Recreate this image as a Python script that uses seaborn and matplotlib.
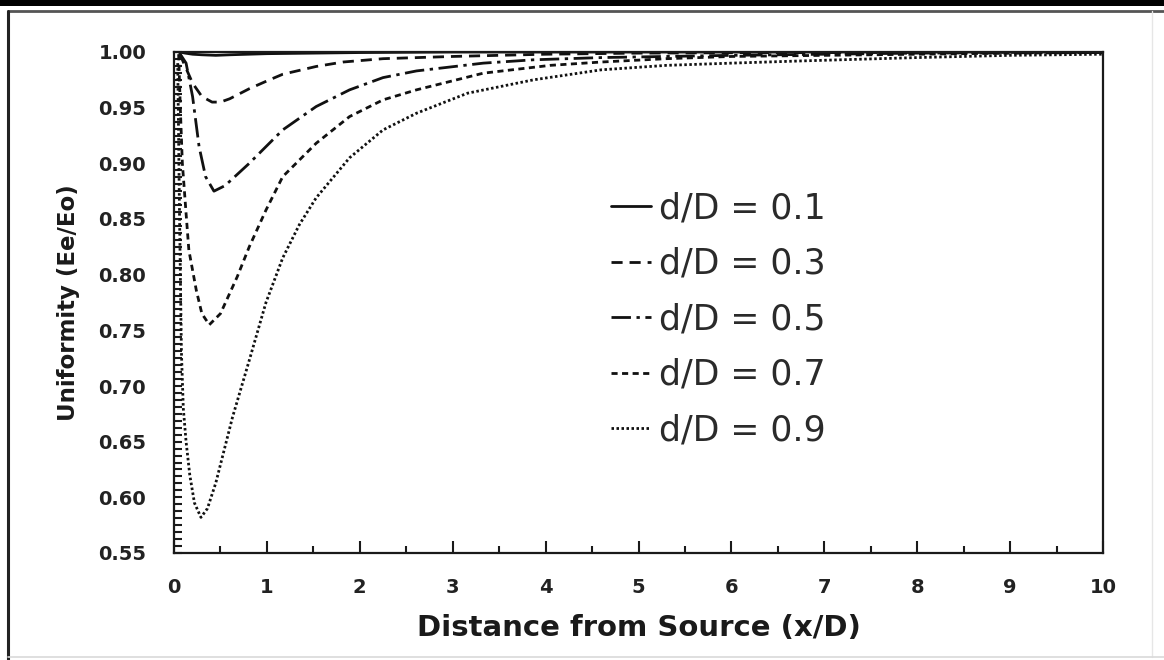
import numpy as np
import pandas as pd
import matplotlib
matplotlib.use("Agg")
import matplotlib.pyplot as plt
from matplotlib.lines import Line2D
from matplotlib.patches import Rectangle
from matplotlib.ticker import MultipleLocator, FormatStrFormatter
import seaborn as sns

# Series labels (ratio of source size d to diameter D)
labels = ["d/D = 0.1", "d/D = 0.3", "d/D = 0.5", "d/D = 0.7", "d/D = 0.9"]

# Uniformity Ee/Eo versus distance from source x/D
x_01 = [0.06, 0.12, 0.2, 0.3, 0.45, 0.6, 0.8, 1.0, 1.5, 2.0, 3.0, 4.0, 6.0, 8.0, 10.0]
y_01 = [1.000, 0.999, 0.998, 0.9975, 0.997, 0.9975, 0.998, 0.9985, 0.999, 0.9995, 1.0, 1.0, 1.0, 1.0, 1.0]

x_03 = [0.06, 0.1, 0.2, 0.3, 0.41, 0.5, 0.6, 0.81, 1.0, 1.17, 1.53, 1.82, 2.25, 3.0, 4.0, 5.0, 6.0, 8.0, 10.0]
y_03 = [0.999, 0.991, 0.972, 0.960, 0.955, 0.955, 0.958, 0.967, 0.974, 0.980, 0.987, 0.991, 0.994, 0.996, 0.998, 0.999, 0.9993, 0.9996, 0.9998]

x_05 = [0.06, 0.13, 0.2, 0.27, 0.34, 0.43, 0.55, 0.81, 1.17, 1.53, 1.89, 2.25, 2.61, 3.33, 3.87, 4.6, 5.3, 6.0, 7.0, 8.0, 10.0]
y_05 = [0.999, 0.990, 0.960, 0.915, 0.888, 0.875, 0.880, 0.900, 0.930, 0.951, 0.966, 0.977, 0.983, 0.990, 0.993, 0.995, 0.996, 0.997, 0.998, 0.999, 0.9995]

x_07 = [0.05, 0.07, 0.09, 0.13, 0.16, 0.24, 0.30, 0.38, 0.5, 0.68, 0.81, 0.99, 1.17, 1.53, 1.89, 2.25, 2.61, 3.33, 4.05, 4.6, 5.3, 6.0, 7.0, 8.0, 9.0, 10.0]
y_07 = [0.998, 0.945, 0.900, 0.855, 0.822, 0.786, 0.765, 0.755, 0.765, 0.798, 0.825, 0.858, 0.888, 0.918, 0.942, 0.957, 0.966, 0.981, 0.988, 0.991, 0.994, 0.996, 0.997, 0.998, 0.999, 0.9995]

x_09 = [0.04, 0.06, 0.08, 0.10, 0.13, 0.17, 0.22, 0.29, 0.36, 0.45, 0.63, 0.81, 0.99, 1.17, 1.35, 1.53, 1.89, 2.25, 2.61, 3.16, 3.87, 4.6, 5.3, 6.0, 6.76, 8.0, 9.0, 10.0]
y_09 = [0.990, 0.850, 0.730, 0.680, 0.650, 0.620, 0.595, 0.582, 0.590, 0.613, 0.672, 0.723, 0.775, 0.815, 0.845, 0.869, 0.905, 0.930, 0.945, 0.963, 0.975, 0.984, 0.988, 0.990, 0.992, 0.995, 0.997, 0.998]

series_x = [x_01, x_03, x_05, x_07, x_09]
series_y = [y_01, y_03, y_05, y_07, y_09]

x_ticks = list(range(0, 11))
y_ticks = [0.55, 0.60, 0.65, 0.70, 0.75, 0.80, 0.85, 0.90, 0.95, 1.00]

sns.set_theme(style="white")
plt.rcParams["font.family"] = ["DejaVu Sans"]

df = pd.concat(
    [pd.DataFrame({"x": xs, "u": ys, "series": lab})
     for lab, xs, ys in zip(labels, series_x, series_y)],
    ignore_index=True,
)

W, H = 1164, 660
fig = plt.figure(figsize=(W / 100, H / 100), dpi=100)
fig.patch.set_facecolor("white")
ax = fig.add_axes([174 / W, 1 - 553 / H, (1103 - 174) / W, (553 - 52) / H])

dash_map = {
    labels[0]: "",
    labels[1]: (4, 2.5),
    labels[2]: (7, 2, 1.2, 2),
    labels[3]: (2.2, 1.6),
    labels[4]: (0.9, 0.9),
}
sns.lineplot(data=df, x="x", y="u", style="series", dashes=dash_map,
             color="#111111", lw=2, sort=False, estimator=None, ax=ax)

ax.set_xlim(0, 10)
ax.set_ylim(0.55, 1.00)
ax.xaxis.set_major_locator(MultipleLocator(1))
ax.xaxis.set_minor_locator(MultipleLocator(0.5))
ax.yaxis.set_major_locator(MultipleLocator(0.05))
ax.yaxis.set_minor_locator(MultipleLocator(0.00625))
ax.set_xticks(x_ticks)
ax.set_yticks(y_ticks)
ax.yaxis.set_major_formatter(FormatStrFormatter("%.2f"))

for s in ax.spines.values():
    s.set_color("#1a1a1a")
    s.set_linewidth(1.6)

ax.tick_params(which="both", bottom=True, left=True, top=False, right=False)
ax.tick_params(axis="x", which="major", direction="in", length=8.5, width=1.5,
               color="#1a1a1a", pad=18, labelsize=14, labelcolor="#222222")
ax.tick_params(axis="x", which="minor", direction="in", length=5, width=1.5,
               color="#1a1a1a")
ax.tick_params(axis="y", which="both", direction="in", length=6, width=1.5,
               color="#1a1a1a")
ax.tick_params(axis="y", which="major", pad=20, labelsize=14, labelcolor="#222222")
for t in ax.get_xticklabels() + ax.get_yticklabels():
    t.set_fontweight("bold")

ax.set_xlabel("Distance from Source (x/D)", fontsize=21, fontweight="bold",
              color="#1a1a1a", labelpad=12)
ax.set_ylabel("Uniformity (Ee/Eo)", fontsize=16.5, fontweight="bold",
              color="#1a1a1a", labelpad=13)

handles, _ = ax.get_legend_handles_labels()
handles = [h for h in handles if h.get_label() in labels]
for h in handles:
    h.set_linewidth(2)
ax.legend(handles, labels, loc="upper left", bbox_to_anchor=(0.455, 0.75),
          frameon=False, fontsize=25, handlelength=1.15, handletextpad=0.25,
          labelspacing=0.62, borderaxespad=0, labelcolor="#2a2a2a")

# Page frame around the chart
fig.add_artist(Rectangle((0, 1 - 6 / H), 1, 6 / H, transform=fig.transFigure,
                         color="black", lw=0))
fig.add_artist(Line2D([8 / W, 1], [1 - 11 / H] * 2, transform=fig.transFigure,
                      color="#555555", lw=2))
fig.add_artist(Line2D([8 / W] * 2, [0, 1 - 11 / H], transform=fig.transFigure,
                      color="#222222", lw=2.2))
fig.add_artist(Line2D([1152 / W] * 2, [3 / H, 1 - 11 / H], transform=fig.transFigure,
                      color="#e6e6e6", lw=1))
fig.add_artist(Line2D([8 / W, 1], [3 / H] * 2, transform=fig.transFigure,
                      color="#d9d9d9", lw=1.2))

fig.savefig("out.png", dpi=100, facecolor="white")
